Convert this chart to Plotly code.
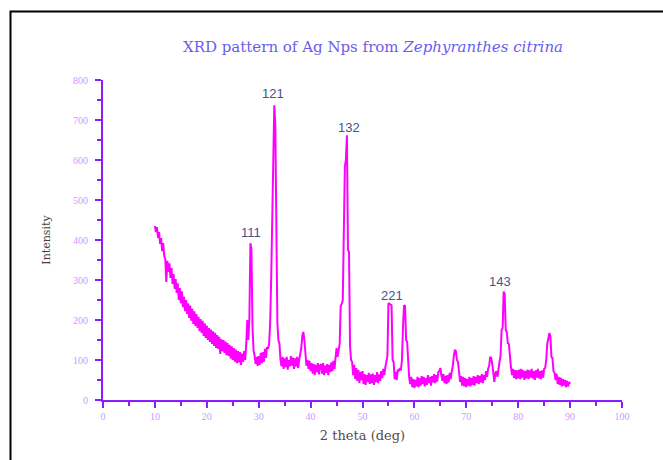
import plotly.graph_objects as go

# 2-theta grid start / step (degrees) of the measurement
theta_start = 10.0
theta_step = 0.2

# Intensity values, one row = 2 degrees (10 points)
intensity = [
    435, 420, 432, 405, 420, 390, 405, 372, 392, 360,   # 10.0-11.8
    352, 295, 348, 320, 342, 305, 330, 290, 315, 278,   # 12
    302, 268, 292, 250, 280, 242, 272, 232, 258, 222,   # 14
    250, 215, 242, 205, 236, 198, 228, 190, 222, 185,   # 16
    215, 180, 208, 172, 202, 168, 198, 160, 192, 155,   # 18
    186, 150, 180, 145, 176, 140, 172, 135, 168, 130,   # 20
    162, 128, 158, 115, 152, 122, 150, 118, 146, 112,   # 22
    142, 110, 138, 104, 134, 100, 130, 96, 126, 92,     # 24
    122, 94, 120, 88, 116, 95, 122, 100, 140, 200,      # 26
    150, 200, 392, 378, 185, 125, 112, 90, 108, 85,     # 28
    110, 88, 118, 92, 120, 96, 128, 105, 132, 128,      # 30
    140, 190, 300, 487, 600, 737, 688, 420, 192, 150,   # 32
    140, 100, 84, 108, 78, 104, 82, 108, 76, 100,       # 34
    84, 110, 86, 106, 78, 104, 84, 108, 80, 100,        # 36
    112, 130, 160, 170, 150, 112, 86, 100, 78, 98,      # 38
    72, 92, 66, 90, 62, 88, 70, 92, 64, 86,             # 40
    90, 66, 92, 62, 86, 68, 90, 62, 88, 70,             # 42
    94, 72, 98, 78, 102, 130, 108, 128, 140, 235,       # 44
    240, 250, 400, 583, 600, 662, 375, 370, 135, 100,   # 46
    95, 62, 88, 52, 80, 48, 75, 42, 70, 50,             # 48
    72, 40, 65, 38, 62, 45, 68, 40, 64, 42,             # 50
    66, 38, 62, 45, 70, 42, 64, 48, 72, 55,             # 52
    78, 62, 82, 100, 110, 242, 240, 237, 237, 100,      # 54
    95, 52, 70, 50, 76, 72, 80, 74, 100, 180,           # 56
    237, 235, 150, 145, 75, 55, 40, 58, 32, 52,         # 58
    30, 50, 34, 58, 32, 55, 36, 60, 40, 58,             # 60
    34, 55, 38, 62, 42, 58, 36, 60, 44, 65,             # 62
    42, 62, 46, 70, 72, 80, 62, 48, 65, 42,             # 64
    60, 40, 62, 44, 68, 52, 72, 85, 110, 125,           # 66
    122, 100, 95, 58, 45, 60, 36, 58, 34, 55,           # 68
    32, 52, 36, 58, 34, 55, 38, 60, 36, 58,             # 70
    42, 62, 40, 60, 44, 65, 42, 62, 50, 72,             # 72
    58, 78, 85, 108, 105, 90, 55, 45, 68, 72,           # 74
    58, 85, 95, 110, 175, 180, 271, 265, 175, 170,      # 76
    142, 140, 100, 83, 62, 78, 55, 75, 52, 74,          # 78
    54, 76, 52, 78, 56, 74, 50, 72, 54, 76,             # 80
    52, 74, 56, 78, 54, 72, 50, 74, 56, 78,             # 82
    54, 72, 52, 74, 56, 78, 80, 100, 140, 150,          # 84
    167, 160, 108, 105, 72, 68, 50, 66, 40, 58,         # 86
    38, 56, 34, 52, 36, 50, 32, 48, 34, 45,             # 88
    40,                                                 # 90
]
two_theta = [round(theta_start + theta_step * i, 1) for i in range(len(intensity))]

# Miller-index peak labels
peak_labels = ["111", "121", "132", "221", "143"]
peak_label_x = [28.5, 32.8, 47.4, 55.7, 76.5]
peak_label_y = [420, 767, 682, 262, 297]

x_ticks = [0, 10, 20, 30, 40, 50, 60, 70, 80, 90, 100]
y_ticks = [0, 100, 200, 300, 400, 500, 600, 700, 800]

AXIS_COLOR = "#8a1cff"
TICKLABEL_COLOR = "#cc99ff"
SERIF = "Liberation Serif, DejaVu Serif, serif"
DSERIF = "DejaVu Serif, serif"

fig = go.Figure()
fig.add_trace(go.Scatter(
    x=two_theta, y=intensity, mode="lines",
    line=dict(color="#ff00ff", width=2),
    showlegend=False, hoverinfo="skip",
))

for txt, px, py in zip(peak_labels, peak_label_x, peak_label_y):
    fig.add_annotation(x=px, y=py, text=txt, showarrow=False,
                       font=dict(family="Liberation Sans, Arial, sans-serif",
                                 size=13, color="#44548a"))

# outer black frame (runs off the right and bottom edges)
L, R, T, B, W, H = 103, 41, 80, 60, 663, 460
pw, ph = W - L - R, H - T - B
def fx(p):
    return (p - L) / pw
def fy(p):
    return (H - B - p) / ph
fig.add_shape(type="rect", xref="paper", yref="paper",
              x0=fx(10.5), x1=fx(680), y0=fy(480), y1=fy(11.5),
              line=dict(color="black", width=2), fillcolor="rgba(0,0,0,0)")

fig.update_layout(
    width=W, height=H,
    margin=dict(l=L, r=R, t=T, b=B),
    paper_bgcolor="white", plot_bgcolor="white",
    title=dict(
        text="XRD pattern of Ag Nps from <i>Zephyranthes citrina</i>",
        x=fx(373), xanchor="center", xref="paper",
        y=1 - 47 / H, yanchor="middle",
        font=dict(family=DSERIF, size=15, color="#6a5cf0"),
    ),
    xaxis=dict(
        range=[0, 100], tickvals=x_ticks, ticks="outside", ticklen=6,
        tickwidth=2, tickcolor=AXIS_COLOR, showline=True, linecolor=AXIS_COLOR,
        linewidth=2, showgrid=False, zeroline=False,
        minor=dict(dtick=5, tick0=0, ticks="outside", ticklen=4, tickwidth=2,
                   tickcolor=AXIS_COLOR, showgrid=False),
        tickfont=dict(family=SERIF, size=10, color=TICKLABEL_COLOR),
        title=dict(text="2 theta (deg)", standoff=10,
                   font=dict(family=DSERIF, size=13, color="#5a4a40")),
    ),
    yaxis=dict(
        range=[0, 800], tickvals=y_ticks, ticks="outside", ticklen=6,
        tickwidth=2, tickcolor=AXIS_COLOR, showline=True, linecolor=AXIS_COLOR,
        linewidth=2, showgrid=False, zeroline=False, ticklabelstandoff=5,
        minor=dict(dtick=50, tick0=0, ticks="outside", ticklen=4, tickwidth=2,
                   tickcolor=AXIS_COLOR, showgrid=False),
        tickfont=dict(family=SERIF, size=10, color=TICKLABEL_COLOR),
        title=dict(text="Intensity", standoff=20,
                   font=dict(family=DSERIF, size=11, color="#4a3f3a")),
    ),
)

fig.write_html("out.html", config={"displayModeBar": False},
               post_script="document.body.style.margin='0';")
